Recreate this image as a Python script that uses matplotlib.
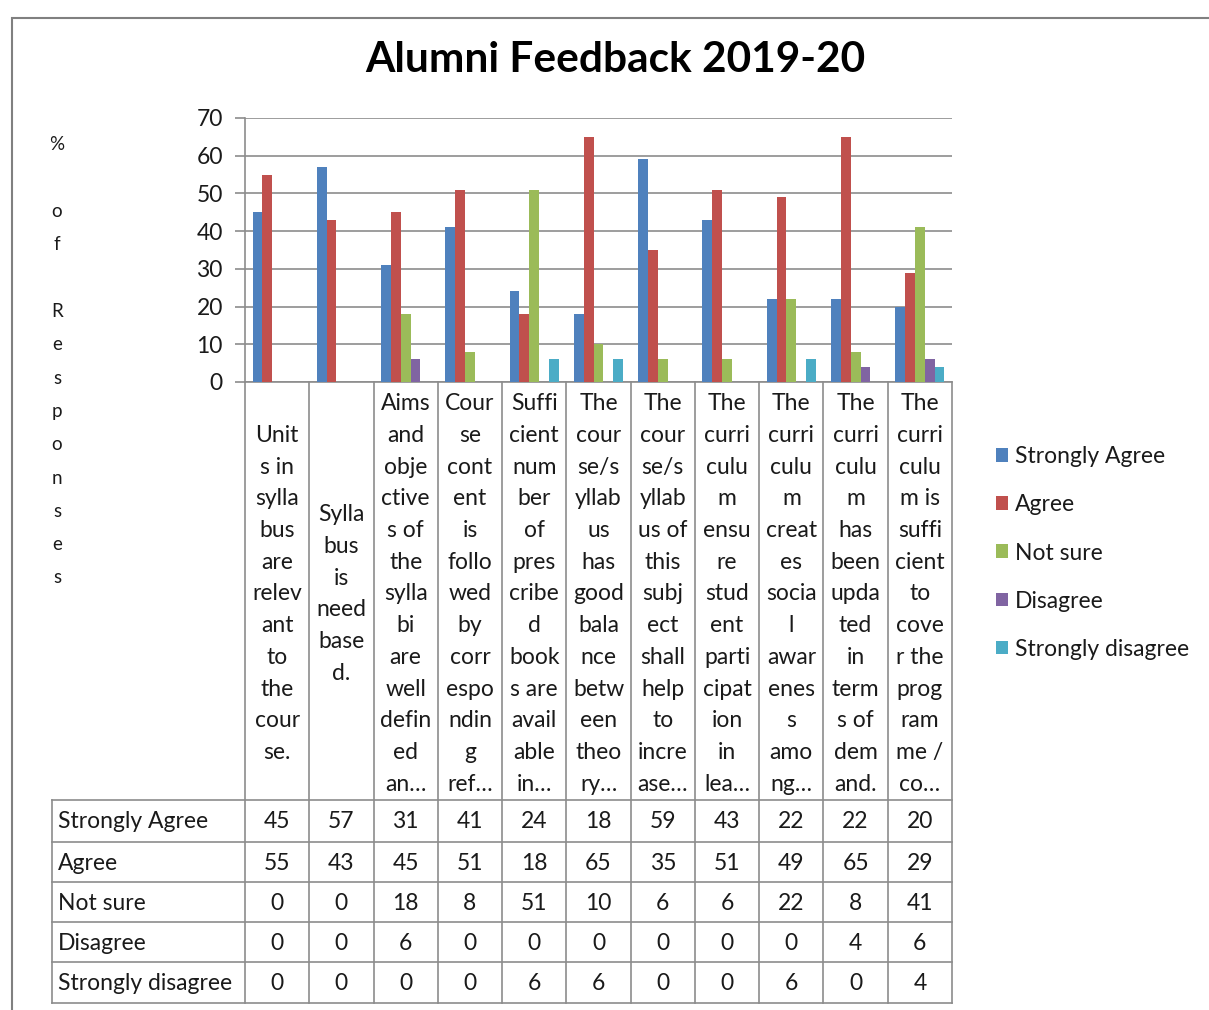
import matplotlib.pyplot as plt
from matplotlib.patches import Patch, Rectangle
import numpy as np

plt.rcParams["font.family"] = ["Lato", "DejaVu Sans"]

# datos
categorias = [
    "Unit\ns in\nsylla\nbus\nare\nrelev\nant\nto\nthe\ncour\nse.",
    "Sylla\nbus\nis\nneed\nbase\nd.",
    "Aims\nand\nobje\nctive\ns of\nthe\nsylla\nbi\nare\nwell\ndefin\ned\nan…",
    "Cour\nse\ncont\nent\nis\nfollo\nwed\nby\ncorr\nespo\nndin\ng\nref…",
    "Suffi\ncient\nnum\nber\nof\npres\ncribe\nd\nbook\ns are\navail\nable\nin…",
    "The\ncour\nse/s\nyllab\nus\nhas\ngood\nbala\nnce\nbetw\neen\ntheo\nry…",
    "The\ncour\nse/s\nyllab\nus of\nthis\nsubj\nect\nshall\nhelp\nto\nincre\nase…",
    "The\ncurri\nculu\nm\nensu\nre\nstud\nent\nparti\ncipat\nion\nin\nlea…",
    "The\ncurri\nculu\nm\ncreat\nes\nsocia\nl\nawar\nenes\ns\namo\nng…",
    "The\ncurri\nculu\nm\nhas\nbeen\nupda\nted\nin\nterm\ns of\ndem\nand.",
    "The\ncurri\nculu\nm is\nsuffi\ncient\nto\ncove\nr the\nprog\nram\nme /\nco…",
]
series = ["Strongly Agree", "Agree", "Not sure", "Disagree", "Strongly disagree"]
strongly_agree = [45, 57, 31, 41, 24, 18, 59, 43, 22, 22, 20]
agree = [55, 43, 45, 51, 18, 65, 35, 51, 49, 65, 29]
not_sure = [0, 0, 18, 8, 51, 10, 6, 6, 22, 8, 41]
disagree = [0, 0, 6, 0, 0, 0, 0, 0, 0, 4, 6]
strongly_disagree = [0, 0, 0, 0, 6, 6, 0, 0, 6, 0, 4]
valores = [strongly_agree, agree, not_sure, disagree, strongly_disagree]
colores = ["#4F81BD", "#C0504D", "#9BBB59", "#8064A2", "#4BACC6"]

titulo = "Alumni Feedback 2019-20"
etiqueta_y = "% of Responses"

W, H = 1209, 1010
gris = "#8c8c8c"
texto = "#1a1a1a"
tam = 16.5

fig = plt.figure(figsize=(W / 100, H / 100), dpi=100)

# marco exterior
fig.patches.append(Rectangle((12 / W, -0.01), 1.0, 1 - 18 / H + 0.01,
                             transform=fig.transFigure, fill=False,
                             edgecolor="#808080", linewidth=1.5))

# grafico de barras
ax = fig.add_axes([245 / W, 1 - 382 / H, (952 - 245) / W, (382 - 118) / H])
x = np.arange(len(categorias))
ancho = 0.153
for k, (nombre, vals, c) in enumerate(zip(series, valores, colores)):
    ax.bar(x + (k - 2) * ancho, vals, ancho, color=c, label=nombre, zorder=3)

ax.set_xlim(-0.5, 10.5)
ax.set_ylim(0, 70)
ax.set_yticks(range(0, 71, 10))
ax.set_xticks([])
ax.yaxis.grid(True, color=gris, linewidth=1.2)
ax.set_axisbelow(True)
for s in ["top", "right"]:
    ax.spines[s].set_visible(False)
ax.spines["left"].set_color(gris)
ax.spines["bottom"].set_color(gris)
ax.spines["left"].set_linewidth(1.2)
ax.spines["bottom"].set_linewidth(1.2)
ax.tick_params(axis="y", length=7, color=gris, width=1.2, labelsize=16.5,
               labelcolor=texto, pad=9)

# tabla de datos
tax = fig.add_axes([52 / W, 1 - 1003 / H, (952 - 52) / W, (1003 - 382) / H])
izq = -0.5 - (245 - 52) / 64.27
tax.set_xlim(izq, 10.5)
tax.set_ylim(1003, 382)
tax.axis("off")

for b in np.arange(-0.5, 11, 1):
    tax.plot([b, b], [382, 1003], color=gris, lw=1.2, clip_on=False)
tax.plot([izq, izq], [800, 1003], color=gris, lw=1.2, clip_on=False)
filas = [800, 842, 882, 922, 962, 1003]
for f in filas:
    tax.plot([izq, 10.5], [f, f], color=gris, lw=1.2, clip_on=False)

for i, cat in enumerate(categorias):
    lineas = cat.split("\n")
    y0 = 594 - (len(lineas) - 1) / 2 * 31.7
    for j, l in enumerate(lineas):
        tax.text(i, y0 + j * 31.7, l, ha="center", va="center",
                 fontsize=tam, color=texto)

for r, (nombre, vals) in enumerate(zip(series, valores)):
    yc = (filas[r] + filas[r + 1]) / 2 + 1
    tax.text(izq + 0.09, yc, nombre, ha="left", va="center",
             fontsize=tam, color=texto)
    for i, v in enumerate(vals):
        tax.text(i, yc, str(v), ha="center", va="center",
                 fontsize=tam, color=texto)

# titulo y etiqueta vertical
fig.text(615 / W, 1 - 60 / H, titulo, ha="center", va="center",
         fontsize=30.5, fontweight="bold", color="black")
for k, ch in enumerate(etiqueta_y):
    if ch != " ":
        fig.text(57 / W, 1 - (145 + k * 33.3) / H, ch, ha="center",
                 va="center", fontsize=13.5, color=texto)

# leyenda
handles = [Patch(facecolor=c, label=n) for n, c in zip(series, colores)]
fig.legend(handles=handles, loc="center left",
           bbox_to_anchor=(975 / W, 1 - 553 / H), frameon=False,
           fontsize=16.5, handlelength=0.55, handleheight=0.55,
           handletextpad=0.3, labelspacing=1.18, labelcolor=texto)

fig.savefig("out.png", dpi=100)
